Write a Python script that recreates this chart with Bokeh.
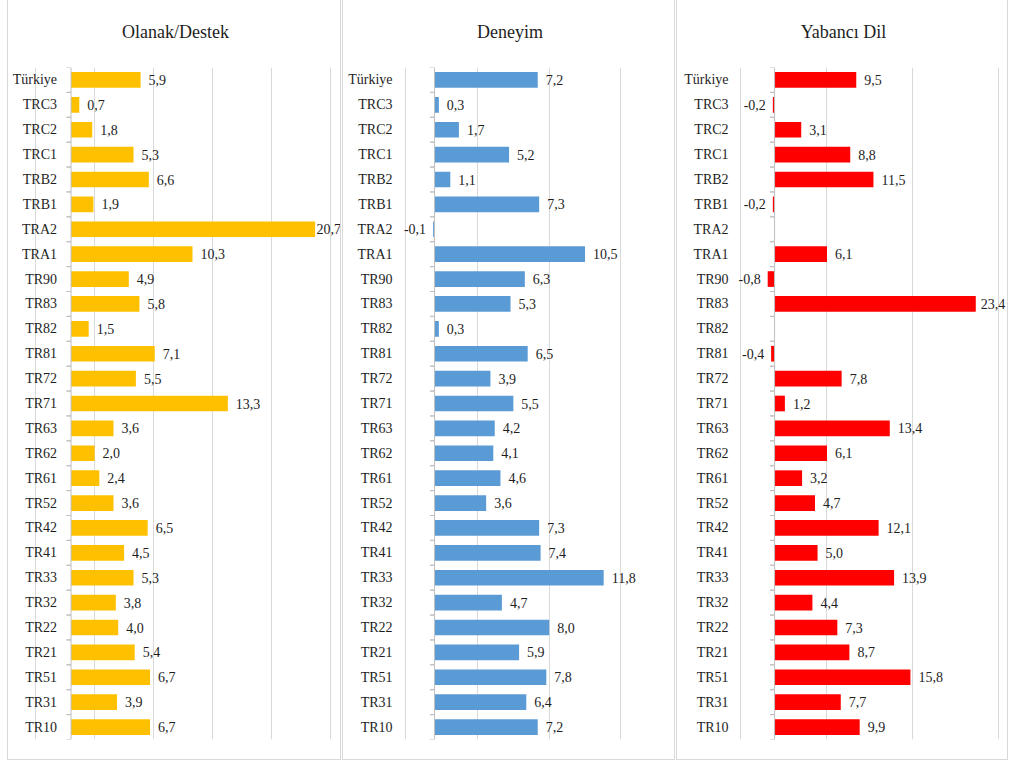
import math
from bokeh.plotting import figure
from bokeh.layouts import row
from bokeh.models import ColumnDataSource, FactorRange, Range1d, Span, Grid, FixedTicker
from bokeh.transform import dodge
from bokeh.core.properties import value
from bokeh.embed import file_html
from bokeh.resources import INLINE

categories = ["Türkiye", "TRC3", "TRC2", "TRC1", "TRB2", "TRB1", "TRA2", "TRA1", "TR90",
              "TR83", "TR82", "TR81", "TR72", "TR71", "TR63", "TR62", "TR61", "TR52",
              "TR42", "TR41", "TR33", "TR32", "TR22", "TR21", "TR51", "TR31", "TR10"]
olanak = [5.9, 0.7, 1.8, 5.3, 6.6, 1.9, 20.7, 10.3, 4.9, 5.8, 1.5, 7.1, 5.5, 13.3,
          3.6, 2.0, 2.4, 3.6, 6.5, 4.5, 5.3, 3.8, 4.0, 5.4, 6.7, 3.9, 6.7]
deneyim = [7.2, 0.3, 1.7, 5.2, 1.1, 7.3, -0.1, 10.5, 6.3, 5.3, 0.3, 6.5, 3.9, 5.5,
           4.2, 4.1, 4.6, 3.6, 7.3, 7.4, 11.8, 4.7, 8.0, 5.9, 7.8, 6.4, 7.2]
yabanci = [9.5, -0.2, 3.1, 8.8, 11.5, -0.2, None, 6.1, -0.8, 23.4, None, -0.4, 7.8, 1.2,
           13.4, 6.1, 3.2, 4.7, 12.1, 5.0, 13.9, 4.4, 7.3, 8.7, 15.8, 7.7, 9.9]
titles = ["Olanak/Destek", "Deneyim", "Yabancı Dil"]
colors = ["#FFC000", "#5B9BD5", "#FF0000"]
grid_ticks = [[-3, 2, 7, 12, 17, 22], [-2, 3, 8, 13], [-4, 6, 16, 26]]

FONT = "Liberation Serif"
FS = 14
TEXT_COLOR = "#1e1e1e"
GRID_COLOR = "#d9d9d9"
AXIS_COLOR = "#bfbfbf"

PAGE_LEFT, PAGE_TOP = 7, -8
# layout: (panel width incl. border, gridline pixel span on page, category label offset)
layouts = [
    (334, (35.0, 328.0), -14),
    (333, (405.0, 618.7), -42),
    (332, (739.3, 995.7), -46),
]
H = 768
TOP, BOTTOM = 74, 22
GAP = 1
TITLE_STANDOFF = 52


def fmt(v):
    return ("%.1f" % v).replace(".", ",")


def est_width(s):
    w = 0.0
    for ch in s:
        w += 0.25 if ch == "," else (0.333 if ch == "-" else 0.5)
    return w * FS


def make_panel(title, vals, color, ticks, lay, host_left):
    W, (g0, g1), label_dx = lay
    cw = W - 2
    canvas_left = host_left + 1
    canvas_right = canvas_left + cw
    scale = (g1 - g0) / (ticks[-1] - ticks[0])
    start = ticks[0] - (g0 - canvas_left) / scale
    end = start + cw / scale

    p = figure(width=W, height=H, output_backend="svg", toolbar_location=None,
               x_range=Range1d(start, end), y_range=FactorRange(factors=categories[::-1]),
               x_axis_location=None, y_axis_location=None,
               min_border_left=0, min_border_right=0, min_border_top=TOP, min_border_bottom=BOTTOM,
               outline_line_color=None, background_fill_color="white", border_fill_color="white",
               styles={"border": "1px solid #d9d9d9"})
    p.title.text = title
    p.title.align = "center"
    p.title.text_font = FONT
    p.title.text_font_style = "normal"
    p.title.text_font_size = "18px"
    p.title.text_color = TEXT_COLOR
    p.title.standoff = TITLE_STANDOFF

    p.center = [r for r in p.center if not isinstance(r, Grid)]
    p.add_layout(Grid(dimension=0, ticker=FixedTicker(ticks=ticks),
                      grid_line_color=GRID_COLOR, grid_line_width=1), "center")

    bar_vals = [float("nan") if v is None else v for v in vals]
    src = ColumnDataSource(dict(cat=categories, val=bar_vals))
    p.hbar(y="cat", left=0, right="val", height=0.63, source=src,
           fill_color=color, line_color=None)

    # zero axis line and boundary ticks
    p.add_layout(Span(location=0, dimension="height", line_color=AXIS_COLOR, line_width=1))
    tl = 4.5 / scale
    tsrc = ColumnDataSource(dict(cat=categories))
    for off in (-0.5, 0.5):
        p.segment(x0=-tl, x1=0, y0=dodge("cat", off, range=p.y_range),
                  y1=dodge("cat", off, range=p.y_range), source=tsrc,
                  line_color=AXIS_COLOR, line_width=1)

    # category labels
    p.text(x=0, y="cat", text="cat", source=tsrc, x_offset=label_dx,
           text_align="right", text_baseline="middle",
           text_font=value(FONT), text_font_size=f"{FS}px", text_color=TEXT_COLOR)

    # value labels (positive to the right, negative to the left; kept inside the panel)
    pos_c, pos_v, pos_l, pos_dx = [], [], [], []
    neg_c, neg_v, neg_l = [], [], []
    for c, v in zip(categories, vals):
        if v is None:
            continue
        lab = fmt(v)
        if v >= 0:
            bar_end = canvas_left + (v - start) * scale
            dx = 8.0
            w = est_width(lab)
            if bar_end + dx + w > canvas_right - 4:
                dx = max(1.5, canvas_right - 4 - w - bar_end)
            pos_c.append(c); pos_v.append(v); pos_l.append(lab); pos_dx.append(dx)
        else:
            neg_c.append(c); neg_v.append(v); neg_l.append(lab)
    if pos_c:
        s = ColumnDataSource(dict(cat=pos_c, val=pos_v, lab=pos_l, dx=pos_dx))
        p.text(x="val", y="cat", text="lab", source=s, x_offset="dx",
               text_align="left", text_baseline="middle",
               text_font=value(FONT), text_font_size=f"{FS}px", text_color=TEXT_COLOR)
    if neg_c:
        s = ColumnDataSource(dict(cat=neg_c, val=neg_v, lab=neg_l))
        p.text(x="val", y="cat", text="lab", source=s, x_offset=-7,
               text_align="right", text_baseline="middle",
               text_font=value(FONT), text_font_size=f"{FS}px", text_color=TEXT_COLOR)
    return p


panels = []
host_left = PAGE_LEFT
for t, v, c, tk, lay in zip(titles, [olanak, deneyim, yabanci], colors, grid_ticks, layouts):
    panels.append(make_panel(t, v, c, tk, lay, host_left))
    host_left += lay[0] + GAP

layout = row(*panels, spacing=GAP, margin=(PAGE_TOP, 0, 0, PAGE_LEFT))
open("out.html", "w").write(file_html(layout, INLINE))
